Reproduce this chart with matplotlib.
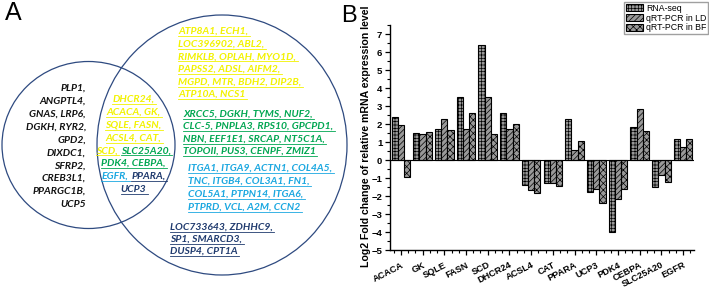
import matplotlib.pyplot as plt
import numpy as np
from matplotlib.patches import Ellipse, Patch
from matplotlib.ticker import MultipleLocator

# ---- panel B data (log2 fold change) ----
genes = ['ACACA', 'GK', 'SQLE', 'FASN', 'SCD', 'DHCR24', 'ACSL4', 'CAT',
         'PPARA', 'UCP3', 'PDK4', 'CEBPA', 'SLC25A20', 'EGFR']
rna_seq = [2.38, 1.49, 1.70, 3.50, 6.38, 2.62, -1.38, -1.29, 2.27, -1.77, -4.02, 1.81, -1.48, 1.18]
qpcr_ld = [1.97, 1.46, 2.27, 1.70, 3.50, 1.75, -1.66, -1.25, 0.57, -1.59, -2.16, 2.82, -0.85, 0.70]
qpcr_bf = [-0.94, 1.57, 1.66, 2.62, 1.46, 2.01, -1.81, -1.44, 1.03, -2.38, -1.61, 1.59, -1.22, 1.16]
series_names = ['RNA-seq', 'qRT-PCR in LD', 'qRT-PCR in BF']

# ---- panel A data (gene lists in the Venn diagram) ----
left_only = ['PLP1,', 'ANGPTL4,', 'GNAS, LRP6,', 'DGKH, RYR2,', 'GPD2,', 'DIXDC1,',
             'SFRP2,', 'CREB3L1,', 'PPARGC1B,', 'UCP5']
shared = [[('DHCR24,', 'y')], [('ACACA, GK,', 'y')], [('SQLE, FASN,', 'y')],
          [('ACSL4, CAT,', 'y')], [('SCD,', 'y'), ('SLC25A20,', 'g')],
          [('PDK4, CEBPA,', 'g')], [('EGFR,', 'b'), ('PPARA,', 'n')], [('UCP3', 'n')]]
right_yellow = ['ATP8A1, ECH1,', 'LOC396902, ABL2,', 'RIMKLB, OPLAH, MYO1D,',
                'PAPSS2, ADSL, AIFM2,', 'MGPD, MTR, BDH2, DIP2B,', 'ATP10A, NCS1']
right_green = ['XRCC5, DGKH, TYMS, NUF2,', 'CLC-5, PNPLA3, RPS10, GPCPD1,',
               'NBN, EEF1E1, SRCAP, NT5C1A,', 'TOPOII, PUS3, CENPF, ZMIZ1']
right_blue = ['ITGA1, ITGA9, ACTN1, COL4A5,', 'TNC, ITGB4, COL3A1, FN1,',
              'COL5A1, PTPN14, ITGA6,', 'PTPRD, VCL, A2M, CCN2']
right_navy = ['LOC733643, ZDHHC9,', 'SP1, SMARCD3,', 'DUSP4, CPT1A']

colors = {'k': '#111111', 'y': '#f2f200', 'g': '#00a651', 'b': '#1aa7e0', 'n': '#1f3a6e'}

plt.rcParams['font.family'] = ['Liberation Sans', 'DejaVu Sans']
plt.rcParams['hatch.linewidth'] = 0.5

fig = plt.figure(figsize=(7.09, 2.92), dpi=100)

# panel A drawn in pixel coordinates
ax_a = fig.add_axes([0, 0, 1, 1])
ax_a.set_xlim(0, 709)
ax_a.set_ylim(292, 0)
ax_a.axis('off')

ax_a.add_patch(Ellipse((88.5, 145), 173, 167, fill=False, ec='#2e4a80', lw=0.9))
ax_a.add_patch(Ellipse((222, 145), 250, 260, fill=False, ec='#2e4a80', lw=0.9))
ax_a.text(5, 20, 'A', fontsize=18, va='baseline')

venn_font = dict(family='Lato', style='italic', weight='bold', fontsize=7.5)
renderer = fig.canvas.get_renderer()


def write_line(x, y, segs, align='left', underline=True):
    texts = []
    for s, c in segs:
        t = ax_a.text(0, y, s, color=colors[c], ha='left', va='baseline', **venn_font)
        texts.append(t)
    widths = [t.get_window_extent(renderer).width for t in texts]
    gap = 3
    total = sum(widths) + gap * (len(texts) - 1)
    if align == 'center':
        x0 = x - total / 2
    elif align == 'right':
        x0 = x - total
    else:
        x0 = x
    for t, w in zip(texts, widths):
        t.set_x(x0)
        if underline:
            ax_a.plot([x0, x0 + w + gap * 0.5], [y + 2.2, y + 2.2], color=t.get_color(), lw=0.6)
        x0 += w + gap


for i, s in enumerate(left_only):
    write_line(86, 90.8 + 12.9 * i, [(s, 'k')], align='right', underline=False)
for i, segs in enumerate(shared):
    write_line(133.5, 102 + 12.8 * i, segs, align='center')
for i, s in enumerate(right_yellow):
    write_line(178, 34 + 12.6 * i, [(s, 'y')])
for i, s in enumerate(right_green):
    write_line(183, 116.5 + 12.4 * i, [(s, 'g')])
for i, s in enumerate(right_blue):
    write_line(188, 170.7 + 12.9 * i, [(s, 'b')])
for i, s in enumerate(right_navy):
    write_line(170, 229.3 + 12.3 * i, [(s, 'n')])

# panel B
fig.text(341 / 709, 1 - 22 / 292, 'B', fontsize=17, va='baseline')
ax_b = fig.add_axes([390 / 709, 42 / 292, 304 / 709, 225 / 292])
x = np.arange(len(genes))
w = 0.285
hatches = ['+++++', '//////', 'xxxxx']
for i, (vals, name) in enumerate(zip([rna_seq, qpcr_ld, qpcr_bf], series_names)):
    ax_b.bar(x + (i - 1) * w, vals, w, color='#999999', edgecolor='black',
             hatch=hatches[i], lw=0.8, label=name)
ax_b.axhline(0, color='black', lw=0.8)
ax_b.set_xlim(-0.5, 13.5)
ax_b.set_ylim(-5, 7.5)
ax_b.spines['top'].set_visible(False)
ax_b.spines['right'].set_visible(False)
for sp in ['left', 'bottom']:
    ax_b.spines[sp].set_linewidth(1.0)
ax_b.set_yticks(range(-5, 8))
ax_b.yaxis.set_minor_locator(MultipleLocator(0.5))
ax_b.set_xticks(x)
ax_b.set_xticks(np.arange(-1 / 3, 13.5, 1 / 3), minor=True)
ax_b.tick_params(which='major', direction='out', length=3.5, width=0.9, labelsize=6.8)
ax_b.tick_params(which='minor', direction='out', length=2, width=0.8)
ax_b.tick_params(axis='x', pad=4)
ax_b.tick_params(axis='y', pad=2)
ax_b.set_xticklabels(genes, rotation=27, ha='right', rotation_mode='anchor',
                     fontweight='bold', fontsize=6.6)
for lbl in ax_b.get_yticklabels():
    lbl.set_fontweight('bold')
ax_b.set_ylabel('Log2 Fold change of relative mRNA expression level', fontsize=7.6,
                fontweight='bold')
ax_b.yaxis.set_label_coords(-0.062, 0.505)

handles = [Patch(facecolor='#999999', edgecolor='black', hatch=h, lw=0.8) for h in hatches]
fig.legend(handles, series_names, loc='upper right', bbox_to_anchor=(708 / 709, 1 - 2 / 292),
           fontsize=6.3, frameon=True, fancybox=False, edgecolor='#888888', borderpad=0.2,
           labelspacing=0.1, handlelength=2.0, handleheight=0.9, handletextpad=0.3,
           borderaxespad=0)

fig.savefig('out.png', dpi=100)
plt.close()
